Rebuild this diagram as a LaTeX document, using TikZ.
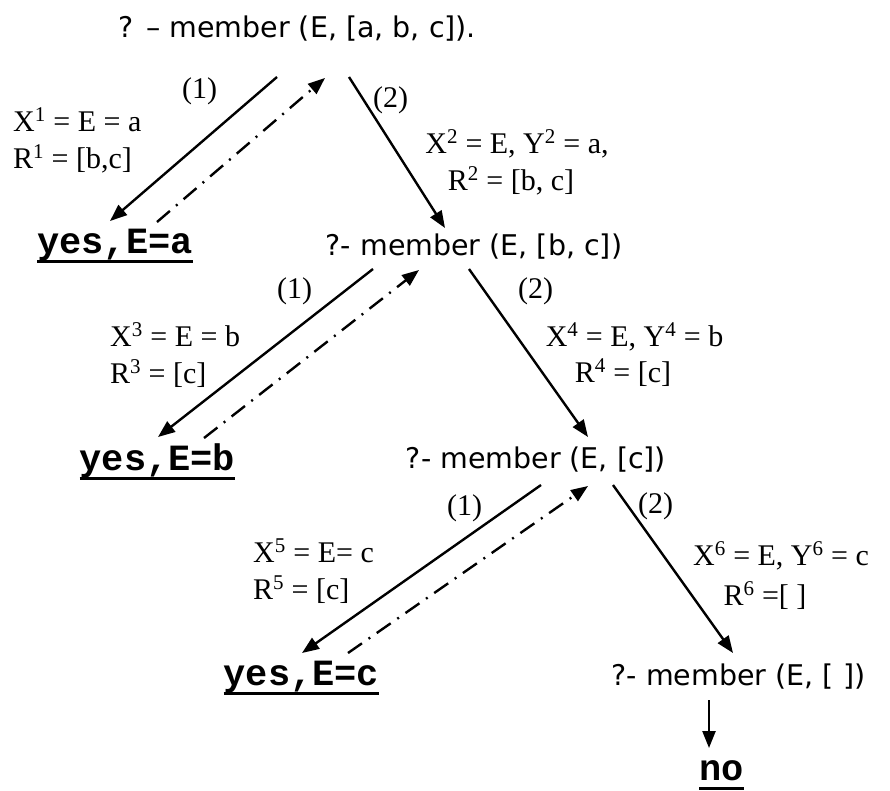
\documentclass[tikz,border=0pt]{standalone}
\usepackage{fontspec}
\setmainfont{Liberation Serif}
\newfontfamily\goalfont{DejaVu Sans}
\newfontfamily\ansfont{Liberation Mono}
\usetikzlibrary{arrows.meta}
\begin{document}
\begin{tikzpicture}[x=1pt,y=-1pt,
 goal/.style={font=\goalfont\fontsize{28.5}{34}\selectfont, inner sep=0pt, anchor=base},
 ans/.style={font=\ansfont\bfseries\fontsize{37}{40}\selectfont, inner sep=0pt, anchor=base},
 lbl/.style={font=\fontsize{30}{34}\selectfont, inner sep=0pt, anchor=base west},
 lblc/.style={font=\fontsize{30}{34}\selectfont, inner sep=0pt, anchor=base},
 fwd/.style={line width=2.4pt, -{Triangle[length=17pt,width=13pt]}},
 bwd/.style={line width=2.4pt, dash pattern=on 17pt off 8pt on 2pt off 8pt, -{Triangle[length=17pt,width=13pt]}},
 uline/.style={line width=3.2pt}]
\useasboundingbox (0,0) rectangle (890,790);
% goals
\node[goal] (g1) at (297.5,37) {? – member (E, [a, b, c]).};
\node[goal] (g2) at (474,255) {?- member (E, [b, c])};
\node[goal] (g3) at (536,468) {?- member (E, [c])};
\node[goal] (g4) at (738.5,685) {?- member (E, [ ])};
% answers
\node[ans] (ya) at (115,253) {yes,E=a};
\node[ans] (yb) at (157.5,470) {yes,E=b};
\node[ans] (yc) at (301.5,685) {yes,E=c};
\node[ans] (no) at (721.5,780) {no};
\foreach \n in {ya,yb,yc,no}
  \draw[uline] ([yshift=-8.5pt]\n.base west) -- ([yshift=-8.5pt]\n.base east);
% labels level 1
\node[lbl] (l1a) at (182,98) {(1)};
\node[lbl] (x1) at (13,131) {X\textsuperscript{1} = E = a};
\node[lbl] (r1) at (13,168) {R\textsuperscript{1} = [b,c]};
\node[lbl] (l1b) at (373,107) {(2)};
\node[lblc] (x2) at (517,153) {X\textsuperscript{2} = E, Y\textsuperscript{2} = a,};
\node[lblc] (r2) at (511,190) {R\textsuperscript{2} = [b, c]};
% labels level 2
\node[lbl] (l2a) at (277,298) {(1)};
\node[lbl] (x3) at (110,346) {X\textsuperscript{3} = E = b};
\node[lbl] (r3) at (110,383) {R\textsuperscript{3} = [c]};
\node[lbl] (l2b) at (518,298) {(2)};
\node[lblc] (x4) at (634.5,346) {X\textsuperscript{4} = E, Y\textsuperscript{4} = b};
\node[lblc] (r4) at (623,382) {R\textsuperscript{4} = [c]};
% labels level 3
\node[lbl] (l3a) at (447,515) {(1)};
\node[lbl] (x5) at (253,562) {X\textsuperscript{5} = E= c};
\node[lbl] (r5) at (253,599) {R\textsuperscript{5} = [c]};
\node[lbl] (l3b) at (638,513) {(2)};
\node[lblc] (x6) at (781,565) {X\textsuperscript{6} = E, Y\textsuperscript{6} = c};
\node[lblc] (r6) at (765,605) {R\textsuperscript{6} =[ ]};
% arrow end points
\coordinate (a1s) at (277,77);  \coordinate (a1e) at (110,221);
\coordinate (b1s) at (157,222); \coordinate (b1e) at (325,78);
\coordinate (c1s) at (349,77);  \coordinate (c1e) at (445,228);
\coordinate (a2s) at (373,269); \coordinate (a2e) at (158,437);
\coordinate (b2s) at (204,438); \coordinate (b2e) at (419,270);
\coordinate (c2s) at (469,269); \coordinate (c2e) at (588,437);
\coordinate (a3s) at (541,485); \coordinate (a3e) at (302,653);
\coordinate (b3s) at (348,653); \coordinate (b3e) at (588,486);
\coordinate (c3s) at (613,485); \coordinate (c3e) at (733,653);
\coordinate (d4s) at (709,700); \coordinate (d4e) at (709,748);
\draw[fwd] (a1s) -- (a1e);
\draw[bwd] (b1s) -- (b1e);
\draw[fwd] (c1s) -- (c1e);
\draw[fwd] (a2s) -- (a2e);
\draw[bwd] (b2s) -- (b2e);
\draw[fwd] (c2s) -- (c2e);
\draw[fwd] (a3s) -- (a3e);
\draw[bwd] (b3s) -- (b3e);
\draw[fwd] (c3s) -- (c3e);
\draw[fwd] (d4s) -- (d4e);
\end{tikzpicture}
\end{document}
